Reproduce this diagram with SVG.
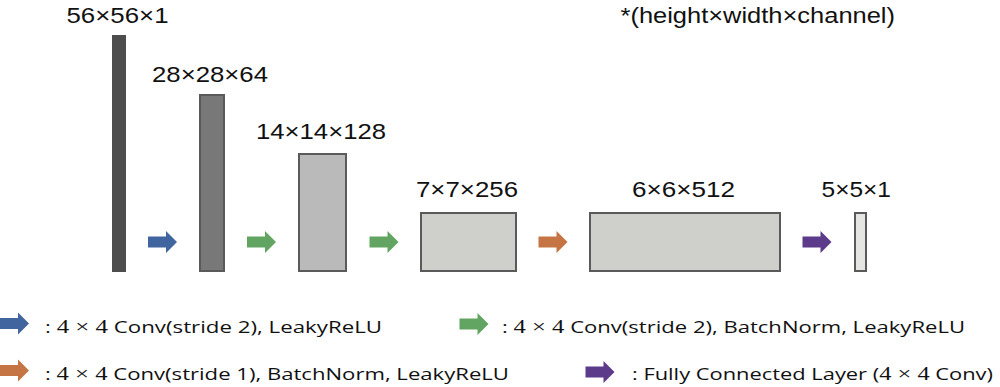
<svg xmlns="http://www.w3.org/2000/svg" xmlns:xlink="http://www.w3.org/1999/xlink" width="1000" height="387" viewBox="0 0 1000 387">
<style>
.lbl{font-family:"Liberation Sans",Arial,sans-serif;font-size:22px;fill:#111}
.leg{font-family:"Open Sans","Liberation Sans",sans-serif;font-size:17px;fill:#111}
.m{font-family:"Liberation Serif","DejaVu Serif",serif;font-size:19px}
.box{stroke:#5a5a5a;stroke-width:2}
</style>
<defs>
<path id="arr" d="M0,-5.5 H18 V-11 L29,0 L18,11 V5.5 H0 Z"/>
</defs>
<rect width="1000" height="387" fill="#fff"/>
<g id="layer1">
<rect x="112" y="35" width="14" height="237" fill="#4d4d4d"/>
<text class="lbl" x="66.5" y="22.7" textLength="102" lengthAdjust="spacingAndGlyphs">56×56×1</text>
</g>
<g id="layer2">
<rect class="box" x="200" y="95" width="24" height="176" fill="#787878"/>
<text class="lbl" x="152" y="81.7" textLength="116" lengthAdjust="spacingAndGlyphs">28×28×64</text>
</g>
<g id="layer3">
<rect class="box" x="299" y="154" width="47" height="117" fill="#bababa"/>
<text class="lbl" x="256" y="139.3" textLength="130" lengthAdjust="spacingAndGlyphs">14×14×128</text>
</g>
<g id="layer4">
<rect class="box" x="421" y="213" width="95" height="58" fill="#cfd0cc"/>
<text class="lbl" x="416" y="196.7" textLength="102" lengthAdjust="spacingAndGlyphs">7×7×256</text>
</g>
<g id="layer5">
<rect class="box" x="590" y="213" width="190" height="58" fill="#cfd0cc"/>
<text class="lbl" x="632" y="196.7" textLength="103" lengthAdjust="spacingAndGlyphs">6×6×512</text>
</g>
<g id="layer6">
<rect class="box" x="855" y="213" width="11" height="58" fill="#e5e5e3"/>
<text class="lbl" x="821.5" y="196.7" textLength="69.5" lengthAdjust="spacingAndGlyphs">5×5×1</text>
</g>
<text class="lbl" x="620.5" y="23" textLength="274.5" lengthAdjust="spacingAndGlyphs">*(height×width×channel)</text>
<g id="connectors">
<use xlink:href="#arr" href="#arr" x="148" y="242" fill="#41659f"/>
<use xlink:href="#arr" href="#arr" x="247" y="242" fill="#62a563"/>
<use xlink:href="#arr" href="#arr" x="369.5" y="242" fill="#62a563"/>
<use xlink:href="#arr" href="#arr" x="538.5" y="242" fill="#c57544"/>
<use xlink:href="#arr" href="#arr" x="802.5" y="242" fill="#5b3b8a"/>
</g>
<g id="legend">
<use xlink:href="#arr" href="#arr" x="0" y="323.5" fill="#41659f"/>
<text class="leg" x="45" y="333" textLength="337" lengthAdjust="spacingAndGlyphs">: <tspan class="m">4 × 4</tspan> Conv(stride 2), LeakyReLU</text>
<use xlink:href="#arr" href="#arr" x="459.5" y="324" fill="#62a563"/>
<text class="leg" x="502" y="333" textLength="463" lengthAdjust="spacingAndGlyphs">: <tspan class="m">4 × 4</tspan> Conv(stride 2), BatchNorm, LeakyReLU</text>
<use xlink:href="#arr" href="#arr" x="0" y="370.5" fill="#c57544"/>
<text class="leg" x="45" y="380" textLength="464" lengthAdjust="spacingAndGlyphs">: <tspan class="m">4 × 4</tspan> Conv(stride 1), BatchNorm, LeakyReLU</text>
<use xlink:href="#arr" href="#arr" x="585.5" y="372" fill="#5b3b8a"/>
<text class="leg" x="632" y="380" textLength="361" lengthAdjust="spacingAndGlyphs">: Fully Connected Layer (<tspan class="m">4 × 4</tspan> Conv)</text>
</g>
</svg>
